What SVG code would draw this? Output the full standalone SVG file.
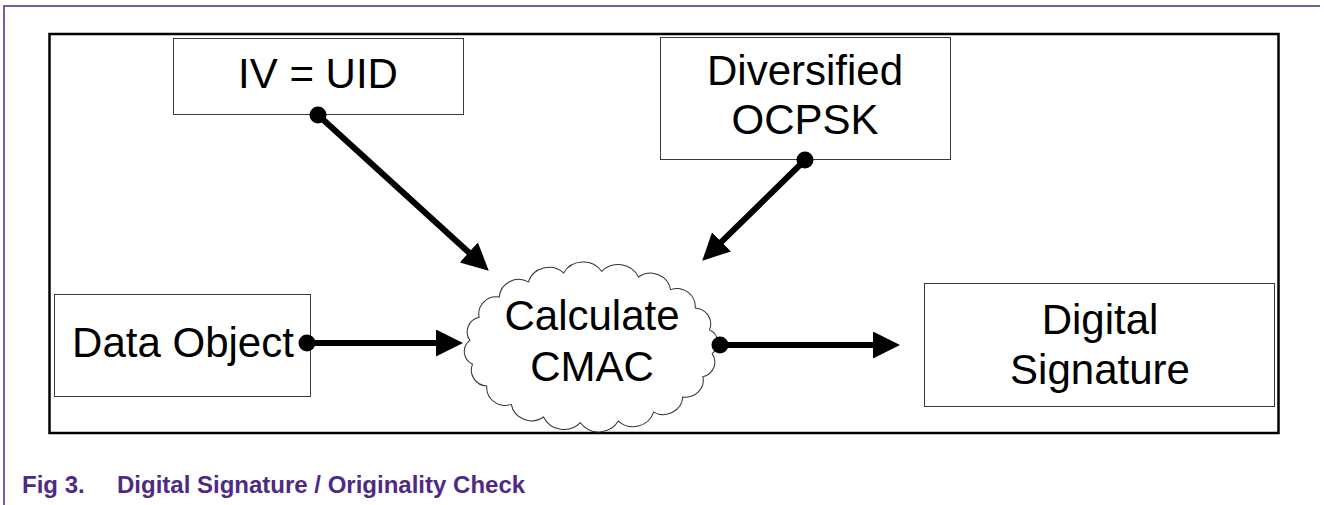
<svg xmlns="http://www.w3.org/2000/svg" width="1324" height="505" viewBox="0 0 1324 505">
<style>
.frame{fill:none;stroke:#4e2a84;stroke-width:1.5}
.outer{fill:#fff;stroke:#000;stroke-width:2.5}
.box{fill:#fff;stroke:#3a3a3a;stroke-width:1}
.cloud{fill:#fff;stroke:#333;stroke-width:1}
.lbl{font-family:"Liberation Sans",Arial,sans-serif;font-size:42px;fill:#000;text-anchor:middle}
.cap{font-family:"Liberation Sans",Arial,sans-serif;font-size:24px;font-weight:bold;fill:#4e2a84}
.conn{stroke:#000;stroke-width:6;fill:none;marker-end:url(#arrow)}
.dot{fill:#000}
</style>
<defs>
<marker id="arrow" markerUnits="userSpaceOnUse" markerWidth="30" markerHeight="30" refX="2" refY="13.5" orient="auto">
<path d="M0,0 L27,13.5 L0,27 Z" fill="#000"/>
</marker>
</defs>
<rect width="1324" height="505" fill="#fff"/>
<path class="frame" d="M4,505 V6 H1320"/>
<rect class="outer" x="49.5" y="34" width="1229" height="399"/>

<g id="node-iv">
<rect class="box" x="173.5" y="38.5" width="290" height="76"/>
<text class="lbl" x="318" y="88">IV = UID</text>
</g>
<g id="node-ocpsk">
<rect class="box" x="660.5" y="37.5" width="290" height="122"/>
<text class="lbl" x="805" y="85">Diversified</text>
<text class="lbl" x="805" y="134">OCPSK</text>
</g>
<g id="node-data">
<rect class="box" x="54.5" y="294.5" width="256" height="102"/>
<text class="lbl" x="183" y="357">Data Object</text>
</g>
<g id="node-cmac">
<path class="cloud" transform="translate(591 347) scale(1.03 1) translate(-591 -347)" d="M708.6,353.6 A15,15 0 0 1 699.6,376.7 A17,17 0 0 1 680.1,396.9 A19,19 0 0 1 651.8,412.1 A21,21 0 0 1 617.6,421.1 A22,22 0 0 1 580.7,422.7 A22,22 0 0 1 544.9,417 A20,20 0 0 1 513.6,404.4 A18,18 0 0 1 489.8,386.1 A16,16 0 0 1 476,364.1 A14,14 0 0 1 473.4,340.4 A15,15 0 0 1 482.4,317.3 A17,17 0 0 1 501.9,297.1 A19,19 0 0 1 530.2,281.9 A21,21 0 0 1 564.4,272.9 A22,22 0 0 1 601.3,271.3 A22,22 0 0 1 637.1,277 A20,20 0 0 1 668.4,289.6 A18,18 0 0 1 692.2,307.9 A16,16 0 0 1 706,329.9 A14,14 0 0 1 708.6,353.6 Z"/>
<text class="lbl" x="592" y="330">Calculate</text>
<text class="lbl" x="592" y="381">CMAC</text>
</g>
<g id="node-signature">
<rect class="box" x="924.5" y="283.5" width="350" height="123"/>
<text class="lbl" x="1100" y="334">Digital</text>
<text class="lbl" x="1100" y="384">Signature</text>
</g>

<g id="connectors">
<line class="conn" x1="318" y1="115" x2="470.3" y2="253.8"/>
<line class="conn" x1="805" y1="160" x2="720.1" y2="243.2"/>
<line class="conn" x1="307" y1="343" x2="438" y2="343"/>
<line class="conn" x1="720" y1="345" x2="875" y2="345"/>
<circle class="dot" cx="318" cy="115" r="8.5"/>
<circle class="dot" cx="805" cy="160" r="8.5"/>
<circle class="dot" cx="307" cy="343" r="8.5"/>
<circle class="dot" cx="720" cy="345" r="8.5"/>
</g>

<g id="caption">
<text class="cap" x="22" y="493">Fig 3.</text>
<text class="cap" x="117" y="493">Digital Signature / Originality Check</text>
</g>
</svg>
